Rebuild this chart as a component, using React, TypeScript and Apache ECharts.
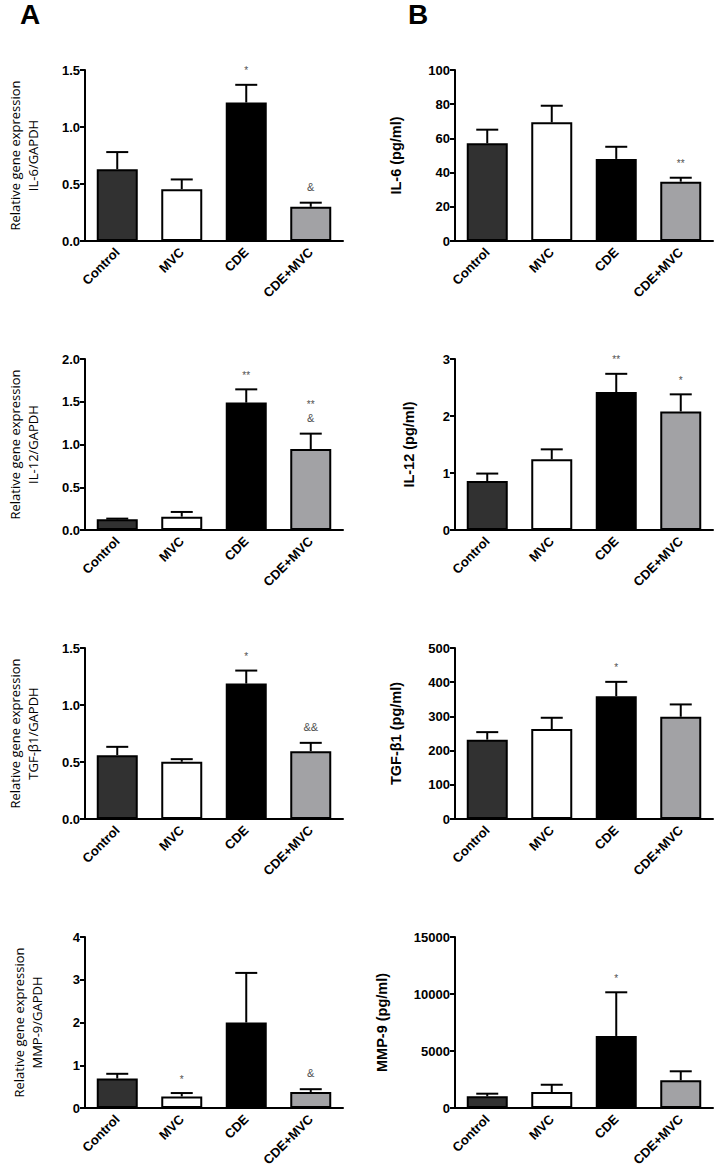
import React, { useEffect, useRef } from "react";
import * as echarts from "echarts";

const categories = ["Control", "MVC", "CDE", "CDE+MVC"];
const barColors = ["#313131", "#ffffff", "#000000", "#a2a2a5"];

// Panel A – relative gene expression
const il6GeneMean = [0.63, 0.455, 1.215, 0.3];
const il6GeneErr = [0.15, 0.085, 0.155, 0.036];
const il6GeneMarks = ["", "", "*", "&"];

const il12GeneMean = [0.125, 0.156, 1.49, 0.947];
const il12GeneErr = [0.008, 0.055, 0.155, 0.18];
const il12GeneMarks = ["", "", "**", "**\n&"];

const tgfGeneMean = [0.56, 0.502, 1.188, 0.595];
const tgfGeneErr = [0.073, 0.023, 0.114, 0.073];
const tgfGeneMarks = ["", "", "*", "&&"];

const mmpGeneMean = [0.69, 0.27, 2.0, 0.375];
const mmpGeneErr = [0.11, 0.08, 1.16, 0.065];
const mmpGeneMarks = ["", "*", "", "&"];

// Panel B – protein (pg/ml)
const il6ProtMean = [57.1, 69.4, 48.0, 34.7];
const il6ProtErr = [8.0, 9.7, 7.1, 2.3];
const il6ProtMarks = ["", "", "", "**"];

const il12ProtMean = [0.86, 1.24, 2.42, 2.08];
const il12ProtErr = [0.13, 0.175, 0.32, 0.3];
const il12ProtMarks = ["", "", "**", "*"];

const tgfProtMean = [232, 263, 359, 299];
const tgfProtErr = [22, 33, 42, 36];
const tgfProtMarks = ["", "", "*", ""];

const mmpProtMean = [1020, 1400, 6320, 2430];
const mmpProtErr = [235, 640, 3830, 790];
const mmpProtMarks = ["", "", "*", ""];

const FONT = "'Liberation Sans', Arial, sans-serif";

type PanelDef = {
  col: number;
  row: number;
  means: number[];
  errs: number[];
  marks: string[];
  max: number;
  interval: number;
  decimals: number;
  name: string;
  nameGap: number;
  gene: boolean;
};

const panels: PanelDef[] = [
  { col: 0, row: 0, means: il6GeneMean, errs: il6GeneErr, marks: il6GeneMarks, max: 1.5, interval: 0.5, decimals: 1, name: "Relative gene expression\nIL-6/GAPDH", nameGap: 43, gene: true },
  { col: 1, row: 0, means: il6ProtMean, errs: il6ProtErr, marks: il6ProtMarks, max: 100, interval: 20, decimals: 0, name: "IL-6 (pg/ml)", nameGap: 51, gene: false },
  { col: 0, row: 1, means: il12GeneMean, errs: il12GeneErr, marks: il12GeneMarks, max: 2, interval: 0.5, decimals: 1, name: "Relative gene expression\nIL-12/GAPDH", nameGap: 43, gene: true },
  { col: 1, row: 1, means: il12ProtMean, errs: il12ProtErr, marks: il12ProtMarks, max: 3, interval: 1, decimals: 0, name: "IL-12 (pg/ml)", nameGap: 38, gene: false },
  { col: 0, row: 2, means: tgfGeneMean, errs: tgfGeneErr, marks: tgfGeneMarks, max: 1.5, interval: 0.5, decimals: 1, name: "Relative gene expression\nTGF-β1/GAPDH", nameGap: 43, gene: true },
  { col: 1, row: 2, means: tgfProtMean, errs: tgfProtErr, marks: tgfProtMarks, max: 500, interval: 100, decimals: 0, name: "TGF-β1 (pg/ml)", nameGap: 51, gene: false },
  { col: 0, row: 3, means: mmpGeneMean, errs: mmpGeneErr, marks: mmpGeneMarks, max: 4, interval: 1, decimals: 0, name: "Relative gene expression\nMMP-9/GAPDH", nameGap: 39, gene: true },
  { col: 1, row: 3, means: mmpProtMean, errs: mmpProtErr, marks: mmpProtMarks, max: 15000, interval: 5000, decimals: 0, name: "MMP-9 (pg/ml)", nameGap: 65, gene: false },
];

const gridLefts = [85, 455];
const gridTops = [70, 359, 648, 937];
const gridW = 258;
const gridH = 171;

function buildOption() {
  const grids: any[] = [];
  const xAxes: any[] = [];
  const yAxes: any[] = [];
  const series: any[] = [];

  panels.forEach((p, k) => {
    grids.push({ left: gridLefts[p.col], top: gridTops[p.row], width: gridW, height: gridH, containLabel: false });
    xAxes.push({
      type: "category",
      gridIndex: k,
      data: categories,
      axisLine: { lineStyle: { color: "#000", width: 2 } },
      axisTick: { alignWithLabel: true, length: 5, lineStyle: { color: "#000", width: 2 } },
      axisLabel: { interval: 0, rotate: 45, margin: 9, color: "#000", fontFamily: FONT, fontWeight: "bold", fontSize: 13 },
    });
    yAxes.push({
      type: "value",
      gridIndex: k,
      min: 0,
      max: p.max,
      interval: p.interval,
      splitLine: { show: false },
      axisLine: { show: true, lineStyle: { color: "#000", width: 2 } },
      axisTick: { show: true, length: 5, lineStyle: { color: "#000", width: 2 } },
      axisLabel: {
        margin: 5,
        color: "#000",
        fontFamily: FONT,
        fontWeight: "bold",
        fontSize: 13,
        formatter: (v: number) => v.toFixed(p.decimals),
      },
      name: p.name,
      nameLocation: "middle",
      nameRotate: 90,
      nameGap: p.nameGap,
      nameTextStyle: p.gene
        ? { fontFamily: "'Open Sans', sans-serif", fontSize: 13, fontWeight: "normal", color: "#000", lineHeight: 18 }
        : { fontFamily: FONT, fontSize: 14.5, fontWeight: "bold", color: "#000", lineHeight: 16 },
    });

    series.push({
      type: "bar",
      xAxisIndex: k,
      yAxisIndex: k,
      barWidth: 41,
      data: p.means.map((v, i) => ({ value: v, itemStyle: { color: barColors[i], borderColor: "#000", borderWidth: 2 } })),
    });

    series.push({
      type: "custom",
      xAxisIndex: k,
      yAxisIndex: k,
      clip: false,
      z: 3,
      data: p.means.map((m, i) => [i, m, m + p.errs[i]]),
      renderItem: (params: any, api: any) => {
        const x = api.value(0);
        const p0 = api.coord([x, api.value(1)]);
        const p1 = api.coord([x, api.value(2)]);
        return {
          type: "group",
          children: [
            { type: "line", shape: { x1: p0[0], y1: p0[1], x2: p1[0], y2: p1[1] }, style: { stroke: "#000", lineWidth: 2 } },
            { type: "line", shape: { x1: p1[0] - 11, y1: p1[1], x2: p1[0] + 11, y2: p1[1] }, style: { stroke: "#000", lineWidth: 2 } },
          ],
        };
      },
    });

    const markIdx = p.marks.map((s, i) => i).filter((i) => p.marks[i] !== "");
    series.push({
      type: "custom",
      xAxisIndex: k,
      yAxisIndex: k,
      clip: false,
      z: 4,
      data: markIdx.map((i) => [i, p.means[i] + p.errs[i]]),
      renderItem: (params: any, api: any) => {
        const i = markIdx[params.dataIndex];
        const pt = api.coord([api.value(0), api.value(1)]);
        const lines = p.marks[i].split("\n");
        const n = lines.length;
        return {
          type: "group",
          children: lines.map((t, j) => {
            const isStar = t.indexOf("*") >= 0;
            return {
              type: "text",
              x: pt[0],
              y: pt[1] - 16 - (n - 1 - j) * 15 + (isStar ? 2 : 0),
              style: {
                text: t,
                fill: "#505050",
                fontFamily: FONT,
                fontSize: isStar ? 10 : 11,
                align: "center",
                verticalAlign: "middle",
              },
            };
          }),
        };
      },
    });
  });

  return {
    animation: false,
    backgroundColor: "#fff",
    grid: grids,
    xAxis: xAxes,
    yAxis: yAxes,
    series,
    graphic: [
      { type: "text", left: 20, top: 0, style: { text: "A", fontFamily: FONT, fontWeight: "bold", fontSize: 28, fill: "#000" } },
      { type: "text", left: 408, top: 0, style: { text: "B", fontFamily: FONT, fontWeight: "bold", fontSize: 28, fill: "#000" } },
    ],
  };
}

export default function App() {
  const ref = useRef<HTMLDivElement>(null);
  useEffect(() => {
    if (!ref.current) return;
    const chart = echarts.init(ref.current, null, { renderer: "svg" });
    chart.setOption(buildOption() as any);
    return () => chart.dispose();
  }, []);
  return <div ref={ref} style={{ position: "absolute", left: 0, top: 0, width: 718, height: 1172, background: "#fff" }} />;
}
